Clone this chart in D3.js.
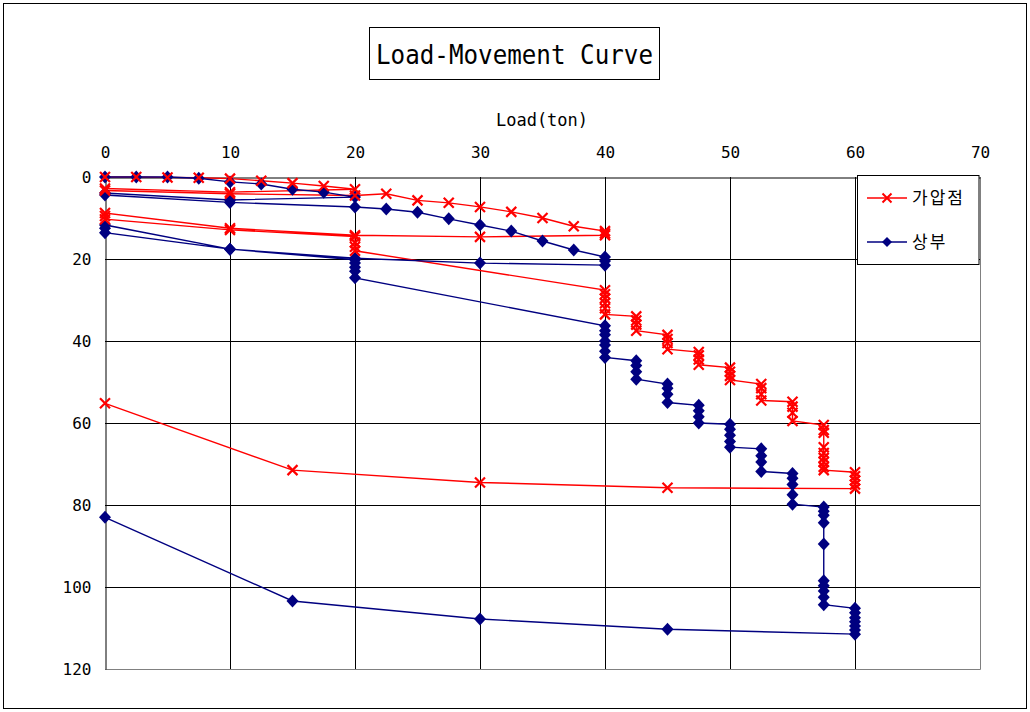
<!DOCTYPE html>
<html>
<head>
<meta charset="utf-8">
<script src="https://cdn.jsdelivr.net/npm/d3@7"></script>
<style>
html,body{margin:0;padding:0;background:#fff;}
svg{display:block;}
</style>
</head>
<body>
<script>
// ---- data ----
const title = "Load-Movement Curve";
const xTitle = "Load(ton)";
const xTicks = [0,10,20,30,40,50,60,70];
const yTicks = [0,20,40,60,80,100,120];
const seriesNames = ["가압점","상부"];

const redLoad = [0,2.5,5,7.5,10,12.5,15,17.5,20,
  10,0,0,10,20,
  22.5,25,27.5,30,32.5,35,37.5,40,40,40,
  30,20,10,0,
  0,0,10,20,20,20,20,
  40,40,40,40,40,40,
  42.5,42.5,42.5,42.5,45,45,45,45,47.5,47.5,47.5,47.5,
  50,50,50,50,52.5,52.5,52.5,52.5,55,55,55,55,
  57.5,57.5,57.5,57.5,57.5,57.5,57.5,57.5,57.5,
  60,60,60,60,60,
  45,30,15,0];
const redMove = [0,0,0.1,0.2,0.4,0.9,1.5,2.2,3.0,
  3.7,2.8,3.3,4.1,4.5,
  4.1,5.7,6.3,7.3,8.5,10,12,13.2,13.8,14.2,
  14.6,14.2,12.5,8.8,
  9.5,10.3,12.9,14.5,16,17,18,
  27.6,28.6,29.6,30.8,32,33.5,
  34,35,36,37.5,38.5,39.5,40.5,42,42.7,43.5,44.5,45.8,
  46.5,47.5,48.5,49.5,50.5,51.5,53,54.5,54.8,56,57.5,59.5,
  60.5,61.7,62.4,65.9,67.3,68.5,69.5,70.7,71.5,
  72,73,74,75,76,
  75.8,74.5,71.5,55.2];

const blueLoad = [0,2.5,5,7.5,10,12.5,15,17.5,20,
  10,0,0,10,20,
  22.5,25,27.5,30,32.5,35,37.5,40,40,40,
  30,20,10,0,
  0,0,10,20,20,20,20,20,
  40,40,40,40,40,40,40,
  42.5,42.5,42.5,42.5,45,45,45,45,47.5,47.5,47.5,47.5,
  50,50,50,50,50,52.5,52.5,52.5,52.5,55,55,55,55,55,
  57.5,57.5,57.5,57.5,57.5,57.5,57.5,57.5,57.5,57.5,
  60,60,60,60,60,60,60,
  45,30,15,0];
const blueMove = [0,0,0,0.3,1.2,1.7,3.0,3.7,4.9,
  5.6,3.9,4.4,6.2,7.3,
  7.8,8.6,10.2,11.7,13.2,15.6,17.8,19.5,20.5,21.5,
  21,19.8,17.6,11.7,
  12.5,13.6,17.6,20.2,21,22,23,24.6,
  36.3,37.5,38.5,40,41,42.5,44,
  44.8,46,47.5,49.3,50.5,51.5,53,55,55.7,57,58.5,60,
  60.3,61.5,63,64.5,65.9,66.3,68,69.5,71.8,72.3,73.5,75,77.5,79.8,
  80.5,81.5,82.5,84.3,89.5,98.5,99.7,101,102.5,104.3,
  105.2,106.3,107.5,108.5,109.5,110.5,111.5,
  110.3,107.8,103.4,83];

// ---- chart ----
const W = 1030, H = 712;
const svg = d3.select("body").append("svg").attr("width", W).attr("height", H);
svg.append("rect").attr("x",0).attr("y",0).attr("width",W).attr("height",H).attr("fill","#fff");
svg.append("rect").attr("x",3.5).attr("y",3.5).attr("width",W-7).attr("height",H-7)
  .attr("fill","none").attr("stroke","#000").attr("stroke-width",1);

const x = d3.scaleLinear().domain([0,70]).range([105,980]);
const y = d3.scaleLinear().domain([0,120]).range([177,669]);

const mono = "'DejaVu Sans Mono', monospace";

// title
svg.append("rect").attr("x",369.5).attr("y",27.5).attr("width",290).attr("height",52)
  .attr("fill","#fff").attr("stroke","#000").attr("stroke-width",1);
svg.append("text").attr("x",376).attr("y",64).attr("font-family",mono).attr("font-size",27)
  .attr("textLength",277).attr("lengthAdjust","spacingAndGlyphs").attr("fill","#000").text(title);

// axis title
svg.append("text").attr("x",542).attr("y",126).attr("text-anchor","middle")
  .attr("font-family",mono).attr("font-size",17).attr("fill","#000").text(xTitle);

// grid
const g = svg.append("g");
g.selectAll(".vg").data(xTicks.filter(d=>d>0 && d<70)).join("line")
  .attr("x1",d=>Math.round(x(d))+0.5).attr("x2",d=>Math.round(x(d))+0.5)
  .attr("y1",y(0)).attr("y2",y(120)).attr("stroke","#000").attr("stroke-width",1);
g.selectAll(".hg").data(yTicks.filter(d=>d>0 && d<120)).join("line")
  .attr("y1",d=>Math.round(y(d))+0.5).attr("y2",d=>Math.round(y(d))+0.5)
  .attr("x1",x(0)).attr("x2",x(70)).attr("stroke","#000").attr("stroke-width",1);
// plot border right/bottom (grey)
g.append("line").attr("x1",x(70)+0.5).attr("x2",x(70)+0.5).attr("y1",y(0)).attr("y2",y(120)+0.5).attr("stroke","#808080");
g.append("line").attr("x1",x(0)).attr("x2",x(70)+0.5).attr("y1",y(120)+0.5).attr("y2",y(120)+0.5).attr("stroke","#808080");

// axes
const xAxis = d3.axisTop(x).tickValues(xTicks).tickSize(0).tickPadding(20).tickFormat(d3.format("d"));
const gx = svg.append("g").attr("transform",`translate(0,${y(0)+0.5})`).call(xAxis);
const yAxis = d3.axisLeft(y).tickValues(yTicks).tickSize(0).tickPadding(14).tickFormat(d3.format("d"));
const gy = svg.append("g").attr("transform",`translate(${x(0)+0.5},0)`).call(yAxis);
[gx,gy].forEach(a=>{
  a.select(".domain").attr("stroke","#000").attr("stroke-width",1);
  a.selectAll("text").attr("font-family",mono).attr("font-size",16).attr("fill","#000");
});

// series
const redData = redLoad.map((v,i)=>[v,redMove[i]]);
const blueData = blueLoad.map((v,i)=>[v,blueMove[i]]);
const line = d3.line().x(d=>x(d[0])).y(d=>y(d[1]));
const RED = "#ff0000", NAVY = "#000080";

svg.append("path").datum(redData).attr("d",line).attr("fill","none").attr("stroke",RED).attr("stroke-width",1.4);
svg.append("path").datum(blueData).attr("d",line).attr("fill","none").attr("stroke",NAVY).attr("stroke-width",1.4);

const diamond = "M0,-6.5L6,0L0,6.5L-6,0Z";
const cross = "M-5,-5L5,5M-5,5L5,-5";

svg.append("g").selectAll("path").data(blueData).join("path")
  .attr("transform",d=>`translate(${x(d[0])},${y(d[1])})`).attr("d",diamond).attr("fill",NAVY);
svg.append("g").selectAll("path").data(redData).join("path")
  .attr("transform",d=>`translate(${x(d[0])},${y(d[1])})`).attr("d",cross)
  .attr("fill","none").attr("stroke",RED).attr("stroke-width",2.2);

// legend
const lg = svg.append("g");
lg.append("rect").attr("x",857.5).attr("y",175.5).attr("width",121.5).attr("height",89)
  .attr("fill","#fff").attr("stroke","#000").attr("stroke-width",1);
const entries = [{name:seriesNames[0],c:RED,m:"M-4.5,-4.5L4.5,4.5M-4.5,4.5L4.5,-4.5",fill:"none",sw:2,yy:198},
                 {name:seriesNames[1],c:NAVY,m:"M0,-5L5,0L0,5L-5,0Z",fill:NAVY,sw:0,yy:242}];
entries.forEach(e=>{
  lg.append("line").attr("x1",867).attr("x2",907).attr("y1",e.yy).attr("y2",e.yy).attr("stroke",e.c).attr("stroke-width",1.3);
  lg.append("path").attr("transform",`translate(887,${e.yy})`).attr("d",e.m)
    .attr("fill",e.fill).attr("stroke",e.sw?e.c:"none").attr("stroke-width",e.sw);
  lg.append("text").attr("x",912).attr("y",e.yy+6).attr("font-family","'Noto Sans CJK KR', sans-serif")
    .attr("font-size",17).attr("letter-spacing",2).attr("fill","#000").text(e.name);
});
</script>
</body>
</html>
